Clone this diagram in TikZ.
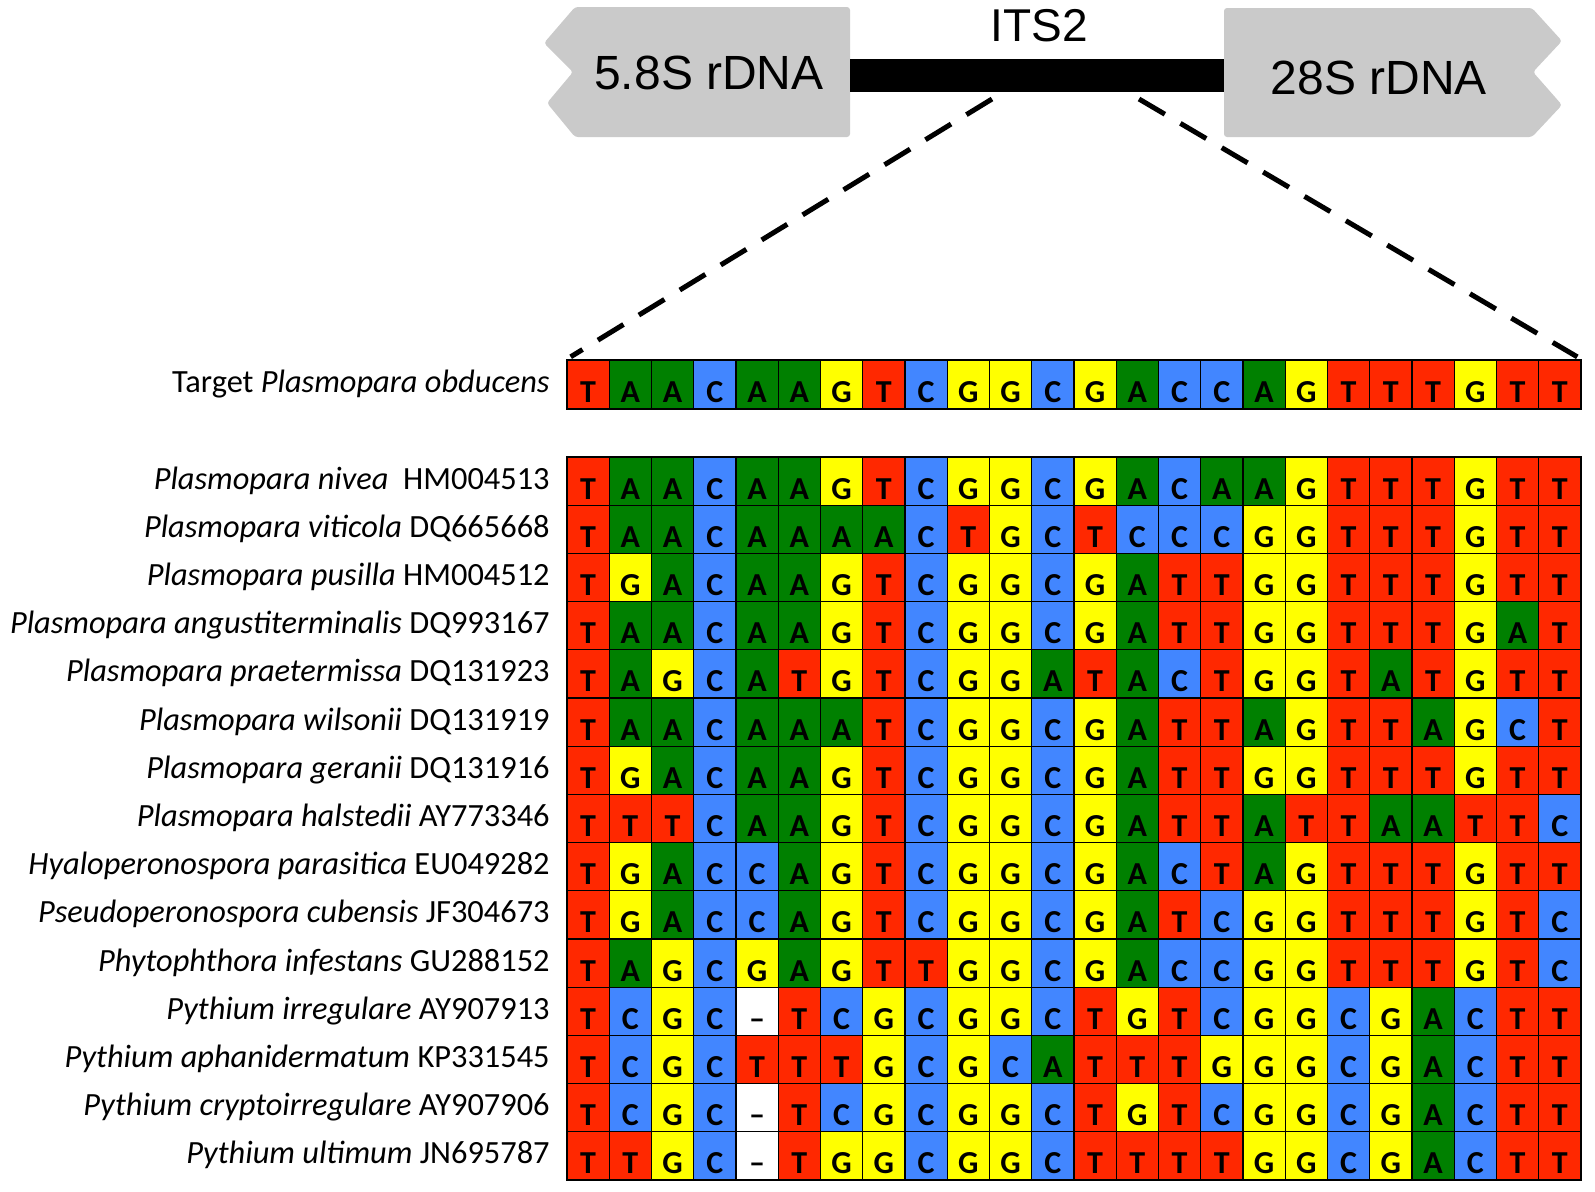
\documentclass[tikz,border=0pt]{standalone}
\usepackage{fontspec}
\setmainfont{Carlito}
\newfontfamily\helvfont{Liberation Sans}
\usepackage{xcolor}
\usepackage{tikz}
\usetikzlibrary{positioning}

\definecolor{baseA}{RGB}{0,128,0}
\definecolor{baseC}{RGB}{66,134,255}
\definecolor{baseG}{RGB}{255,255,0}
\definecolor{baseT}{RGB}{255,40,0}
\definecolor{basex}{RGB}{255,255,255}
\definecolor{genegray}{RGB}{202,202,202}

% letters printed in the cells (x = gap)
\def\btA{A}\def\btC{C}\def\btG{G}\def\btT{T}\def\btx{–}

\begin{document}
\begin{tikzpicture}[x=0.5pt, y=-0.5pt,
    every node/.style={inner sep=0pt},
    cell/.style={draw=black, line width=0.6pt, minimum width=21.125pt, minimum height=24.1pt,
      text height=18pt, text depth=0pt, font=\bfseries\fontsize{16}{16}\selectfont},
    tcell/.style={cell, minimum height=24.5pt},
    spname/.style={font=\fontsize{16.2}{16.2}\selectfont, anchor=base east},
    genelbl/.style={font=\helvfont\fontsize{24}{24}\selectfont},
    zoomline/.style={line width=2.5pt, dash pattern=on 15pt off 9pt, shorten >=2.5pt}]
  \useasboundingbox (0,0) rectangle (1595,1191);

  % gene map
  \fill[genegray, rounded corners=1.5pt] (575,7) -- (850,7) -- (850,137) -- (575,137)
    -- (547,103) -- (573,72) -- (544,43) -- cycle;
  \fill[genegray, rounded corners=1.5pt] (1224,8) -- (1532,8) -- (1562,41) -- (1533,72)
    -- (1562,105) -- (1532,137) -- (1224,137) -- cycle;
  \node[fill=black, minimum width=187pt, minimum height=16.5pt] (its2bar) at (1037,75.5) {};
  \node[genelbl] (s58) at (709,73) {5.8S rDNA};
  \node[genelbl] (s28) at (1379,78) {28S rDNA};
  \node[genelbl, font=\helvfont\fontsize{23}{23}\selectfont] (its2) at (1039,26) {ITS2};

  % target row
  \foreach \b [count=\c] in {T,A,A,C,A,A,G,T,C,G,G,C,G,A,C,C,A,G,T,T,T,G,T,T}
    \node[tcell, fill=base\b] (t\c) at ({567+(\c-0.5)*42.25},384.5) {\csname bt\b\endcsname};
  \node[spname] (tlbl) at (550,392) {Target \textit{Plasmopara obducens}};

  \coordinate (zl) at (992,99);
  \coordinate (zr) at (1139,99);
  \draw[zoomline] (zl) -- (t1.north west);
  \draw[zoomline] (zr) -- (t24.north east);

  % alignment
  \foreach \seq [count=\r] in {
      {T,A,A,C,A,A,G,T,C,G,G,C,G,A,C,A,A,G,T,T,T,G,T,T},
      {T,A,A,C,A,A,A,A,C,T,G,C,T,C,C,C,G,G,T,T,T,G,T,T},
      {T,G,A,C,A,A,G,T,C,G,G,C,G,A,T,T,G,G,T,T,T,G,T,T},
      {T,A,A,C,A,A,G,T,C,G,G,C,G,A,T,T,G,G,T,T,T,G,A,T},
      {T,A,G,C,A,T,G,T,C,G,G,A,T,A,C,T,G,G,T,A,T,G,T,T},
      {T,A,A,C,A,A,A,T,C,G,G,C,G,A,T,T,A,G,T,T,A,G,C,T},
      {T,G,A,C,A,A,G,T,C,G,G,C,G,A,T,T,G,G,T,T,T,G,T,T},
      {T,T,T,C,A,A,G,T,C,G,G,C,G,A,T,T,A,T,T,A,A,T,T,C},
      {T,G,A,C,C,A,G,T,C,G,G,C,G,A,C,T,A,G,T,T,T,G,T,T},
      {T,G,A,C,C,A,G,T,C,G,G,C,G,A,T,C,G,G,T,T,T,G,T,C},
      {T,A,G,C,G,A,G,T,T,G,G,C,G,A,C,C,G,G,T,T,T,G,T,C},
      {T,C,G,C,x,T,C,G,C,G,G,C,T,G,T,C,G,G,C,G,A,C,T,T},
      {T,C,G,C,T,T,T,G,C,G,C,A,T,T,T,G,G,G,C,G,A,C,T,T},
      {T,C,G,C,x,T,C,G,C,G,G,C,T,G,T,C,G,G,C,G,A,C,T,T},
      {T,T,G,C,x,T,G,G,C,G,G,C,T,T,T,T,G,G,C,G,A,C,T,T}} {
    \foreach \b [count=\c] in \seq
      \node[cell, fill=base\b] (c\r-\c) at ({567+(\c-0.5)*42.25},{457+(\r-0.5)*48.2}) {\csname bt\b\endcsname};
  }

  \foreach \lbl [count=\r] in {
      \textit{Plasmopara nivea}\ \ HM004513,
      \textit{Plasmopara viticola} DQ665668,
      \textit{Plasmopara pusilla} HM004512,
      \textit{Plasmopara angustiterminalis} DQ993167,
      \textit{Plasmopara praetermissa} DQ131923,
      \textit{Plasmopara wilsonii} DQ131919,
      \textit{Plasmopara geranii} DQ131916,
      \textit{Plasmopara halstedii} AY773346,
      \textit{Hyaloperonospora parasitica} EU049282,
      \textit{Pseudoperonospora cubensis} JF304673,
      \textit{Phytophthora infestans} GU288152,
      \textit{Pythium irregulare} AY907913,
      \textit{Pythium aphanidermatum} KP331545,
      \textit{Pythium cryptoirregulare} AY907906,
      \textit{Pythium ultimum} JN695787}
    \node[spname] (l\r) at (550,{457+(\r-0.5)*48.2+8}) {\lbl};
\end{tikzpicture}
\end{document}
